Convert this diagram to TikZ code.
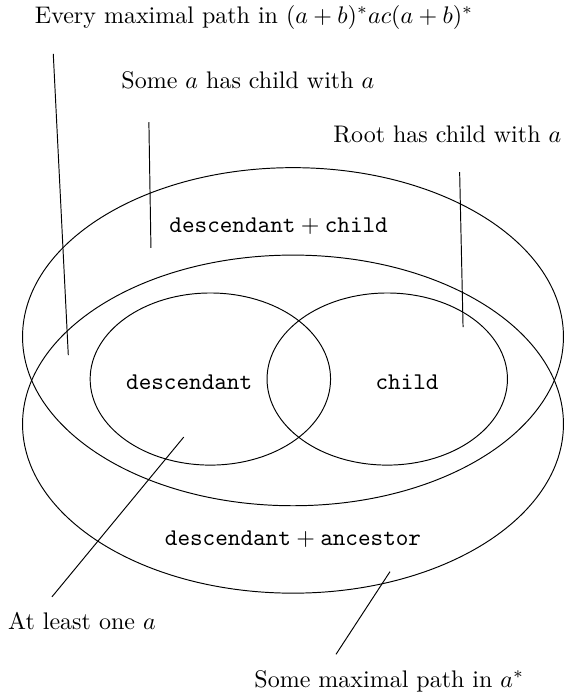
\documentclass[tikz,border=0pt]{standalone}
\usetikzlibrary{calc}
\usetikzlibrary{positioning}
\usetikzlibrary{shapes.geometric}

\tikzset{
  region/.style={ellipse, draw, inner sep=0pt, minimum width=7.92cm, minimum height=4.95cm},
  part/.style={ellipse, draw, inner sep=0pt, minimum width=3.52cm, minimum height=2.52cm},
  tag/.style={anchor=base},
}

\begin{document}
\begin{tikzpicture}
  \useasboundingbox (0,0) rectangle (8.27,10.22);

  \node [region] at (4.29,5.29) (dchild) {};
  \node [region] at (4.29,4.01) (danc) {};
  \node [part] at (3.08,4.67) (desc) {};
  \node [part] at (5.67,4.67) (child) {};

  \node [tag] at (4.08,6.82) (dchildlabel) {$\mathtt{descendant}+\mathtt{child}$};
  \node [tag] at (2.77,4.52) (desclabel) {$\mathtt{descendant}$};
  \node [tag] at (5.96,4.52) (childlabel) {$\mathtt{child}$};
  \node [tag] at (4.29,2.23) (danclabel) {$\mathtt{descendant}+\mathtt{ancestor}$};

  \node [tag] at (3.72,9.88) (every) {Every maximal path in $(a+b)^*ac(a+b)^*$};
  \node [tag] at (3.63,8.92) (some) {Some $a$ has child with $a$};
  \node [tag] at (6.55,8.13) (root) {Root has child with $a$};
  \node [tag] at (1.20,1.00) (least) {At least one $a$};
  \node [tag] at (5.70,0.16) (somepath) {Some maximal path in $a^*$};

  \coordinate (everyfrom) at (0.78,9.43);
  \coordinate (everyto) at (1.00,5.02);
  \coordinate (somefrom) at (2.18,8.43);
  \coordinate (someto) at (2.21,6.59);
  \coordinate (rootfrom) at (6.73,7.70);
  \coordinate (rootto) at (6.78,5.43);
  \coordinate (leastto) at (2.69,3.82);
  \coordinate (leastfrom) at (0.76,1.48);
  \coordinate (pathto) at (5.71,1.85);
  \coordinate (pathfrom) at (4.92,0.64);

  \draw (everyfrom) -- (everyto);
  \draw (somefrom) -- (someto);
  \draw (rootfrom) -- (rootto);
  \draw (leastfrom) -- (leastto);
  \draw (pathfrom) -- (pathto);
\end{tikzpicture}
\end{document}
